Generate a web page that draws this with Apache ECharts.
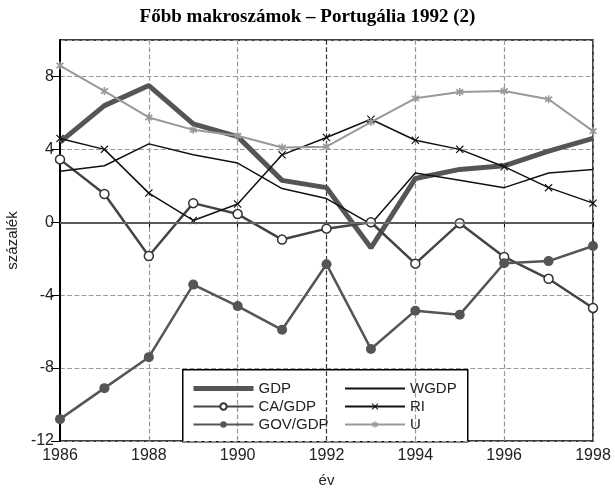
<!DOCTYPE html>
<html>
<head>
<meta charset="utf-8">
<script src="https://cdn.jsdelivr.net/npm/echarts@6/dist/echarts.min.js"></script>
<style>
  html, body { margin: 0; padding: 0; background: #fff; }
  #chart { width: 615px; height: 490px; }
</style>
</head>
<body>
<div id="chart"></div>
<script>
/* Portugália 1992 - főbb makroszámok */

var years  = [1986, 1987, 1988, 1989, 1990, 1991, 1992, 1993, 1994, 1995, 1996, 1997, 1998];
var gdp    = [4.4, 6.4, 7.5, 5.4, 4.7, 2.3, 1.9, -1.4, 2.4, 2.9, 3.1, 3.9, 4.6];
var wgdp   = [2.8, 3.1, 4.3, 3.7, 3.25, 1.85, 1.3, -0.1, 2.7, 2.3, 1.9, 2.7, 2.9];
var caGdp  = [3.45, 1.55, -1.85, 1.05, 0.45, -0.95, -0.35, 0.0, -2.27, -0.05, -1.9, -3.1, -4.7];
var ri     = [4.6, 4.0, 1.6, 0.1, 1.0, 3.7, 4.65, 5.65, 4.5, 4.0, 3.05, 1.9, 1.05];
var govGdp = [-10.8, -9.1, -7.4, -3.42, -4.6, -5.9, -2.3, -6.95, -4.85, -5.07, -2.25, -2.13, -1.3];
var u      = [8.6, 7.2, 5.75, 5.07, 4.75, 4.1, 4.15, 5.5, 6.8, 7.15, 7.2, 6.75, 5.0];

var xMark = 'path://M0,1L1,0L5,4L9,0L10,1L6,5L10,9L9,10L5,6L1,10L0,9L4,5Z';
var star  = 'path://M4,0L6,0L6,3L8.5,1L10,2.5L7,5L10,7.5L8.5,9L6,7L6,10L4,10L4,7L1.5,9L0,7.5L3,5L0,2.5L1.5,1L4,3Z';

function pairs(vals) {
	var re = [];
	for (var i = 0; i < years.length; i++) re.push([years[i], vals[i]]);
	return re;
}

var font = 'Liberation Sans, Arial, sans-serif';
var noMark = { color: 'rgba(0,0,0,0)', borderColor: 'rgba(0,0,0,0)', borderWidth: 0 };
var chart = echarts.init(document.getElementById('chart'));

option = {
	animation: false,
	backgroundColor: '#fff',
	title: {
		text: 'Főbb makroszámok – Portugália 1992 (2)',
		left: 'center',
		top: 3,
		textStyle: { fontFamily: 'Liberation Serif, Times New Roman, serif', fontWeight: 'bold', fontSize: 19, color: '#000' }
	},
	grid: { left: 60, right: 22, top: 40, bottom: 49, show: true, borderColor: '#000', borderWidth: 1.5,
		outerBoundsMode: 'none', containLabel: false },
	xAxis: {
		type: 'value', min: 1986, max: 1998, interval: 2,
		name: 'év', nameLocation: 'middle', nameGap: 32,
		nameTextStyle: { fontFamily: font, fontSize: 15, color: '#222' },
		axisLine: { lineStyle: { color: '#000', width: 2 } },
		axisTick: { show: true, length: 5, lineStyle: { color: '#000' } },
		axisLabel: { fontFamily: font, fontSize: 16, color: '#222', margin: 7,
			formatter: function (v) { return String(v); } },
		splitLine: { show: true, lineStyle: { type: 'dashed', width: 1.2,
			color: ['#999', '#999', '#999', '#333', '#999', '#999', '#999'] } }
	},
	yAxis: {
		type: 'value', min: -12, max: 10, interval: 4,
		name: 'százalék', nameLocation: 'middle', nameGap: 38,
		nameTextStyle: { fontFamily: font, fontSize: 15, color: '#222' },
		axisLine: { show: true, lineStyle: { color: '#000', width: 2 } },
		axisTick: { show: true, length: 9, lineStyle: { color: '#000' } },
		axisLabel: { fontFamily: font, fontSize: 16, color: '#222', margin: 6, showMaxLabel: false },
		splitLine: { show: true, lineStyle: { type: 'dashed', color: '#999', width: 1.2 } }
	},
	legend: [{
		data: [
			{ name: 'GDP', itemStyle: noMark, lineStyle: { width: 5, color: '#555' } },
			{ name: 'CA/GDP' },
			{ name: 'GOV/GDP' }
		],
		orient: 'vertical', left: 186, top: 376,
		itemWidth: 60, itemHeight: 8, itemGap: 3, selectedMode: false,
		textStyle: { fontFamily: font, fontSize: 15, color: '#222' }
	}, {
		data: [
			{ name: 'WGDP', itemStyle: noMark },
			{ name: 'RI' },
			{ name: 'U' }
		],
		orient: 'vertical', left: 339, top: 376,
		itemWidth: 60, itemHeight: 8, itemGap: 3, selectedMode: false,
		textStyle: { fontFamily: font, fontSize: 15, color: '#222' }
	}],
	graphic: [{
		type: 'rect', left: 182, top: 369, z: 0,
		shape: { width: 285, height: 72 },
		style: { fill: '#fff', stroke: '#000', lineWidth: 1.5 }
	}],
	series: [{
		name: 'GDP', type: 'line', data: pairs(gdp), symbol: 'none', z: 3,
		lineStyle: { color: '#555', width: 5 }, itemStyle: { color: '#555' },
		markLine: { silent: true, symbol: 'none', label: { show: false },
			lineStyle: { color: '#777', type: 'solid', width: 1.5 }, data: [{ yAxis: 0 }] }
	}, {
		name: 'CA/GDP', type: 'line', data: pairs(caGdp), symbol: 'circle', symbolSize: 9, z: 4,
		lineStyle: { color: '#444', width: 2.5 },
		itemStyle: { color: '#fff', borderColor: '#333', borderWidth: 1.5 }
	}, {
		name: 'GOV/GDP', type: 'line', data: pairs(govGdp), symbol: 'circle', symbolSize: 10, z: 4,
		lineStyle: { color: '#555', width: 2.5 }, itemStyle: { color: '#555' }
	}, {
		name: 'WGDP', type: 'line', data: pairs(wgdp), symbol: 'none', z: 4,
		lineStyle: { color: '#111', width: 1.5 }, itemStyle: { color: '#111' }
	}, {
		name: 'RI', type: 'line', data: pairs(ri), symbol: xMark, symbolSize: 8, z: 4,
		lineStyle: { color: '#111', width: 1.5 }, itemStyle: { color: '#111' }
	}, {
		name: 'U', type: 'line', data: pairs(u), symbol: star, symbolSize: 8, z: 4,
		lineStyle: { color: '#999', width: 2 }, itemStyle: { color: '#999' }
	}]
};

chart.setOption(option);
</script>
</body>
</html>
